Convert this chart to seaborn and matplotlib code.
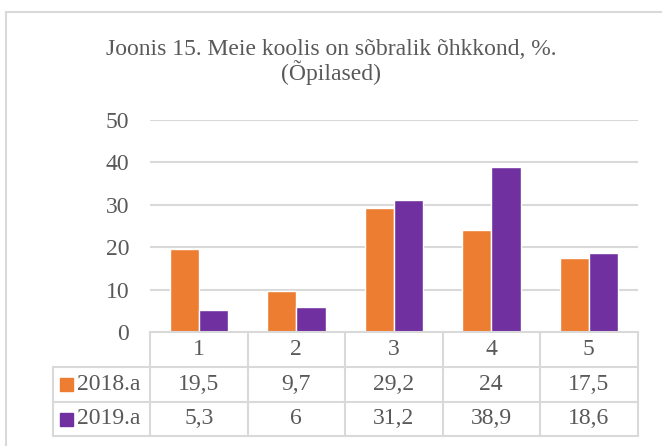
import pandas as pd
import matplotlib.pyplot as plt
import seaborn as sns
from matplotlib.patches import Rectangle

# chart data
categories = ["1", "2", "3", "4", "5"]
series = ["2018.a", "2019.a"]
values_2018 = [19.5, 9.7, 29.2, 24, 17.5]
values_2019 = [5.3, 6, 31.2, 38.9, 18.6]
labels_2018 = ["19,5", "9,7", "29,2", "24", "17,5"]
labels_2019 = ["5,3", "6", "31,2", "38,9", "18,6"]
colors = ["#ED7D31", "#7030A0"]
title = "Joonis 15. Meie koolis on sõbralik õhkkond, %.\n(Õpilased)"

df = pd.DataFrame({
    "kat": categories * 2,
    "aasta": [series[0]] * 5 + [series[1]] * 5,
    "vaartus": values_2018 + values_2019,
})

sns.set_style("white")
plt.rcParams["font.family"] = ["Liberation Serif", "DejaVu Serif"]
txt = "#595959"
grid = "#D9D9D9"
fs = 17

fig = plt.figure(figsize=(6.62, 4.46), dpi=100)
W, H = 662, 446
ax = fig.add_axes([150 / W, 1 - 332 / H, 487.5 / W, 212 / H])

sns.barplot(data=df, x="kat", y="vaartus", hue="aasta", palette=colors,
            width=0.6, order=categories, hue_order=series, ax=ax,
            legend=False, saturation=1)

ax.set_xlim(-0.5, 4.5)
ax.set_ylim(0, 50)
ax.set_yticks([0, 10, 20, 30, 40, 50])
ax.tick_params(axis="y", length=0, pad=15, labelsize=fs, labelcolor=txt)
ax.set_xticks([])
ax.set_xlabel("")
ax.set_ylabel("")
for s in ax.spines.values():
    s.set_visible(False)
for v in [10, 20, 30, 40, 50]:
    ax.axhline(v, color=grid, lw=1.5, zorder=0)

# data table under the axis
row_h = 34.8 / 212
px = 1 / 97.5  # one pixel in x data units
tr = ax.get_xaxis_transform()
lw = 1.5
for i in range(4):
    ax.plot([-0.5, 4.5], [-i * row_h, -i * row_h], transform=tr, color=grid,
            lw=lw, clip_on=False)
for k in range(6):
    ax.plot([k - 0.5, k - 0.5], [0, -3 * row_h], transform=tr, color=grid,
            lw=lw, clip_on=False)
# legend column
x0 = -0.5 - 97 * px
for i in [1, 2, 3]:
    ax.plot([x0, -0.5], [-i * row_h, -i * row_h], transform=tr, color=grid,
            lw=lw, clip_on=False)
ax.plot([x0, x0], [-row_h, -3 * row_h], transform=tr, color=grid, lw=lw,
        clip_on=False)

for j, c in enumerate(categories):
    ax.text(j, -0.5 * row_h, c, transform=tr, ha="center", va="center",
            fontsize=fs, color=txt)
for r, (name, labs) in enumerate([(series[0], labels_2018), (series[1], labels_2019)]):
    yy = -(1.5 + r) * row_h
    for j, l in enumerate(labs):
        ax.text(j, yy, l, transform=tr, ha="center", va="center",
                fontsize=fs, color=txt)
    ax.add_patch(Rectangle((x0 + 7 * px, yy - 6.5 / 212), 13 * px, 13 / 212,
                           transform=tr, color=colors[r], clip_on=False))
    ax.text(x0 + 24 * px, yy, name, transform=tr, ha="left", va="center",
            fontsize=fs, color=txt)

fig.text(0.5, 1 - 62 / H, title, ha="center", va="center", fontsize=17,
         color=txt, linespacing=1.05)

# outer chart border
fig.add_artist(Rectangle((6 / W, -0.1), 1.2, 1 - 12 / H + 0.1,
                         transform=fig.transFigure, fill=False,
                         edgecolor=grid, lw=1.5))

fig.savefig("out.png", dpi=100)
